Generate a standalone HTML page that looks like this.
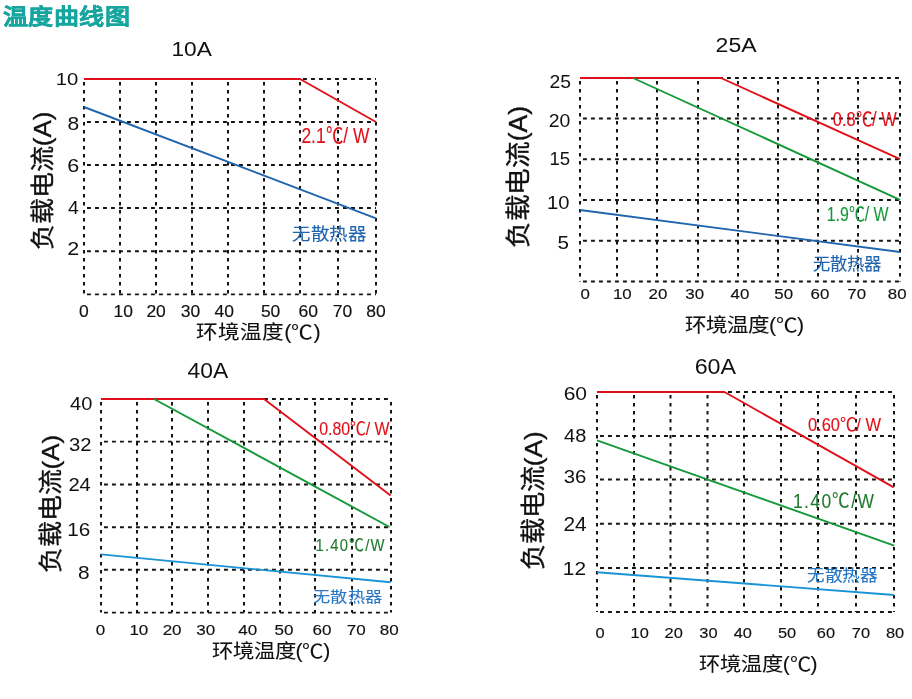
<!DOCTYPE html>
<html lang="zh-CN"><head><meta charset="utf-8"><title>温度曲线图</title>
<style>
html,body{margin:0;padding:0;background:#fff;}
body{width:912px;height:699px;overflow:hidden;}
svg{display:block;font-family:"Liberation Sans",sans-serif;will-change:transform;}
.g{stroke:#161412;stroke-width:2;stroke-dasharray:3.6 4.4;stroke-dashoffset:5;fill:none;}.h{stroke-width:1.9;stroke-dasharray:3.9 4.1;}
</style></head><body>
<svg width="912" height="699" viewBox="0 0 912 699">
<line x1="84" y1="79" x2="84" y2="294.4" class="g"/>
<line x1="120" y1="79" x2="120" y2="294.4" class="g"/>
<line x1="156" y1="79" x2="156" y2="294.4" class="g"/>
<line x1="192" y1="79" x2="192" y2="294.4" class="g"/>
<line x1="228" y1="79" x2="228" y2="294.4" class="g"/>
<line x1="264" y1="79" x2="264" y2="294.4" class="g"/>
<line x1="300" y1="79" x2="300" y2="294.4" class="g"/>
<line x1="338" y1="79" x2="338" y2="294.4" class="g"/>
<line x1="376" y1="79" x2="376" y2="294.4" class="g"/>
<line x1="84" y1="79" x2="376" y2="79" class="g h"/>
<line x1="84" y1="122" x2="376" y2="122" class="g h"/>
<line x1="84" y1="165" x2="376" y2="165" class="g h"/>
<line x1="84" y1="208" x2="376" y2="208" class="g h"/>
<line x1="84" y1="251.3" x2="376" y2="251.3" class="g h"/>
<line x1="84" y1="294.4" x2="376" y2="294.4" class="g h"/>
<polyline points="84,79 300,79 376,122" fill="none" stroke="#e0101a" stroke-width="1.9" stroke-linejoin="round"/>
<polyline points="84,107 376,218.3" fill="none" stroke="#2065ad" stroke-width="1.9" stroke-linejoin="round"/>
<line x1="580" y1="78" x2="580" y2="281.5" class="g"/>
<line x1="617" y1="78" x2="617" y2="281.5" class="g"/>
<line x1="657" y1="78" x2="657" y2="281.5" class="g"/>
<line x1="698" y1="78" x2="698" y2="281.5" class="g"/>
<line x1="738" y1="78" x2="738" y2="281.5" class="g"/>
<line x1="778" y1="78" x2="778" y2="281.5" class="g"/>
<line x1="818" y1="78" x2="818" y2="281.5" class="g"/>
<line x1="858" y1="78" x2="858" y2="281.5" class="g"/>
<line x1="900" y1="78" x2="900" y2="281.5" class="g"/>
<line x1="580" y1="78" x2="900" y2="78" class="g h"/>
<line x1="580" y1="118.5" x2="900" y2="118.5" class="g h"/>
<line x1="580" y1="159.3" x2="900" y2="159.3" class="g h"/>
<line x1="580" y1="200" x2="900" y2="200" class="g h"/>
<line x1="580" y1="240.8" x2="900" y2="240.8" class="g h"/>
<line x1="580" y1="281.5" x2="900" y2="281.5" class="g h"/>
<polyline points="580,78 721,78 900,159.2" fill="none" stroke="#e0101a" stroke-width="1.9" stroke-linejoin="round"/>
<polyline points="633,78 900,199.8" fill="none" stroke="#15993a" stroke-width="1.9" stroke-linejoin="round"/>
<polyline points="580,210 900,252" fill="none" stroke="#2065ad" stroke-width="1.9" stroke-linejoin="round"/>
<line x1="101" y1="399" x2="101" y2="612.6" class="g"/>
<line x1="137" y1="399" x2="137" y2="612.6" class="g"/>
<line x1="172" y1="399" x2="172" y2="612.6" class="g"/>
<line x1="208" y1="399" x2="208" y2="612.6" class="g"/>
<line x1="244" y1="399" x2="244" y2="612.6" class="g"/>
<line x1="280" y1="399" x2="280" y2="612.6" class="g"/>
<line x1="315" y1="399" x2="315" y2="612.6" class="g"/>
<line x1="352" y1="399" x2="352" y2="612.6" class="g"/>
<line x1="391" y1="399" x2="391" y2="612.6" class="g"/>
<line x1="101" y1="399" x2="391" y2="399" class="g h"/>
<line x1="101" y1="441.6" x2="391" y2="441.6" class="g h"/>
<line x1="101" y1="484.5" x2="391" y2="484.5" class="g h"/>
<line x1="101" y1="527.3" x2="391" y2="527.3" class="g h"/>
<line x1="101" y1="569.7" x2="391" y2="569.7" class="g h"/>
<line x1="101" y1="612.6" x2="391" y2="612.6" class="g h"/>
<polyline points="101,399 264,399 390.6,495.4" fill="none" stroke="#e0101a" stroke-width="1.9" stroke-linejoin="round"/>
<polyline points="154,399 389.5,527" fill="none" stroke="#15993a" stroke-width="1.9" stroke-linejoin="round"/>
<polyline points="101,554.4 390.6,582.3" fill="none" stroke="#1a93d6" stroke-width="1.9" stroke-linejoin="round"/>
<line x1="597" y1="392" x2="597" y2="612" class="g"/>
<line x1="634" y1="392" x2="634" y2="612" class="g"/>
<line x1="670.5" y1="392" x2="670.5" y2="612" class="g"/>
<line x1="707.5" y1="392" x2="707.5" y2="612" class="g"/>
<line x1="744" y1="392" x2="744" y2="612" class="g"/>
<line x1="781" y1="392" x2="781" y2="612" class="g"/>
<line x1="818" y1="392" x2="818" y2="612" class="g"/>
<line x1="856" y1="392" x2="856" y2="612" class="g"/>
<line x1="894" y1="392" x2="894" y2="612" class="g"/>
<line x1="597" y1="392" x2="894" y2="392" class="g h"/>
<line x1="597" y1="436" x2="894" y2="436" class="g h"/>
<line x1="597" y1="479.5" x2="894" y2="479.5" class="g h"/>
<line x1="597" y1="523.7" x2="894" y2="523.7" class="g h"/>
<line x1="597" y1="568" x2="894" y2="568" class="g h"/>
<line x1="597" y1="612" x2="894" y2="612" class="g h"/>
<polyline points="597,392 724.5,392 893.8,487.4" fill="none" stroke="#e0101a" stroke-width="1.9" stroke-linejoin="round"/>
<polyline points="597,440.3 894.2,545.6" fill="none" stroke="#15993a" stroke-width="1.9" stroke-linejoin="round"/>
<polyline points="597,572.3 894,595" fill="none" stroke="#1a93d6" stroke-width="1.9" stroke-linejoin="round"/>
<text transform="translate(171.38,55.69) scale(1.0820,1)" font-size="20.99" fill="#111">10A</text>
<text transform="translate(79.10,316.54) scale(1.1200,1)" font-size="15.63" fill="#111" stroke="#111" stroke-width="0.15">0</text>
<text transform="translate(113.43,316.54) scale(1.1200,1)" font-size="15.63" fill="#111" stroke="#111" stroke-width="0.15">10</text>
<text transform="translate(146.39,316.54) scale(1.1200,1)" font-size="15.63" fill="#111" stroke="#111" stroke-width="0.15">20</text>
<text transform="translate(180.68,316.54) scale(1.1200,1)" font-size="15.63" fill="#111" stroke="#111" stroke-width="0.15">30</text>
<text transform="translate(214.46,316.54) scale(1.1200,1)" font-size="15.63" fill="#111" stroke="#111" stroke-width="0.15">40</text>
<text transform="translate(260.88,316.54) scale(1.1200,1)" font-size="15.63" fill="#111" stroke="#111" stroke-width="0.15">50</text>
<text transform="translate(298.49,316.54) scale(1.1200,1)" font-size="15.63" fill="#111" stroke="#111" stroke-width="0.15">60</text>
<text transform="translate(332.69,316.54) scale(1.1200,1)" font-size="15.63" fill="#111" stroke="#111" stroke-width="0.15">70</text>
<text transform="translate(366.28,316.54) scale(1.1200,1)" font-size="15.63" fill="#111" stroke="#111" stroke-width="0.15">80</text>
<text transform="translate(55.78,85.23) scale(1.2013,1)" font-size="16.90" fill="#111">10</text>
<text transform="translate(67.46,129.52) scale(1.1684,1)" font-size="18.03" fill="#111">8</text>
<text transform="translate(67.22,171.62) scale(1.1845,1)" font-size="18.17" fill="#111">6</text>
<text transform="translate(67.91,213.58) scale(1.0820,1)" font-size="17.94" fill="#111">4</text>
<text transform="translate(67.22,254.80) scale(1.1770,1)" font-size="18.29" fill="#111">2</text>
<text transform="translate(50.87,250.07) rotate(-90) scale(1.0810,1)" font-size="24.13" fill="#111" stroke="#111" stroke-width="0.35">负载电流(A)</text>
<text transform="translate(196.04,339.25) scale(1.1095,1)" font-size="19.47" fill="#111" stroke="#111" stroke-width="0.1">环境温度(℃)</text>
<text transform="translate(301.43,143.20) scale(0.7968,1)" font-size="21.86" fill="#e0101a" stroke="#e0101a" stroke-width="0.12">2.1℃/ W</text>
<text transform="translate(292.16,240.25) scale(1.0738,1)" font-size="17.20" fill="#2065ad" stroke="#2065ad" stroke-width="0.12">无散热器</text>
<text transform="translate(715.55,52.19) scale(1.0990,1)" font-size="20.99" fill="#111">25A</text>
<text transform="translate(580.57,298.75) scale(1.1200,1)" font-size="15.07" fill="#111" stroke="#111" stroke-width="0.15">0</text>
<text transform="translate(612.99,298.75) scale(1.1200,1)" font-size="15.07" fill="#111" stroke="#111" stroke-width="0.15">10</text>
<text transform="translate(648.55,298.75) scale(1.1200,1)" font-size="15.07" fill="#111" stroke="#111" stroke-width="0.15">20</text>
<text transform="translate(685.33,298.75) scale(1.1200,1)" font-size="15.07" fill="#111" stroke="#111" stroke-width="0.15">30</text>
<text transform="translate(730.50,298.75) scale(1.1200,1)" font-size="15.07" fill="#111" stroke="#111" stroke-width="0.15">40</text>
<text transform="translate(774.33,298.75) scale(1.1200,1)" font-size="15.07" fill="#111" stroke="#111" stroke-width="0.15">50</text>
<text transform="translate(810.55,298.75) scale(1.1200,1)" font-size="15.07" fill="#111" stroke="#111" stroke-width="0.15">60</text>
<text transform="translate(847.35,298.75) scale(1.1200,1)" font-size="15.07" fill="#111" stroke="#111" stroke-width="0.15">70</text>
<text transform="translate(887.83,298.75) scale(1.1200,1)" font-size="15.07" fill="#111" stroke="#111" stroke-width="0.15">80</text>
<text transform="translate(549.43,88.12) scale(1.0970,1)" font-size="17.61" fill="#111">25</text>
<text transform="translate(548.63,127.32) scale(1.0938,1)" font-size="17.75" fill="#111">20</text>
<text transform="translate(549.51,164.72) scale(1.0325,1)" font-size="18.00" fill="#111">15</text>
<text transform="translate(547.08,208.82) scale(1.0949,1)" font-size="18.45" fill="#111">10</text>
<text transform="translate(557.47,249.32) scale(1.1745,1)" font-size="17.57" fill="#111">5</text>
<text transform="translate(527.39,248.09) rotate(-90) scale(1.0549,1)" font-size="25.11" fill="#111" stroke="#111" stroke-width="0.35">负载电流(A)</text>
<text transform="translate(685.24,331.85) scale(1.1022,1)" font-size="19.47" fill="#111" stroke="#111" stroke-width="0.1">环境温度(℃)</text>
<text transform="translate(832.84,125.80) scale(0.8407,1)" font-size="19.58" fill="#e0101a" stroke="#e0101a" stroke-width="0.12">0.8℃/ W</text>
<text transform="translate(826.63,220.80) scale(0.8074,1)" font-size="19.72" fill="#15993a" stroke="#15993a" stroke-width="0.12">1.9℃/ W</text>
<text transform="translate(812.81,270.15) scale(1.0087,1)" font-size="17.20" fill="#2065ad" stroke="#2065ad" stroke-width="0.12">无散热器</text>
<text transform="translate(187.54,378.48) scale(1.0557,1)" font-size="21.69" fill="#111">40A</text>
<text transform="translate(95.63,634.75) scale(1.1200,1)" font-size="15.21" fill="#111" stroke="#111" stroke-width="0.15">0</text>
<text transform="translate(129.40,634.75) scale(1.1200,1)" font-size="15.21" fill="#111" stroke="#111" stroke-width="0.15">10</text>
<text transform="translate(162.66,634.75) scale(1.1200,1)" font-size="15.21" fill="#111" stroke="#111" stroke-width="0.15">20</text>
<text transform="translate(196.34,634.75) scale(1.1200,1)" font-size="15.21" fill="#111" stroke="#111" stroke-width="0.15">30</text>
<text transform="translate(238.32,634.75) scale(1.1200,1)" font-size="15.21" fill="#111" stroke="#111" stroke-width="0.15">40</text>
<text transform="translate(274.54,634.75) scale(1.1200,1)" font-size="15.21" fill="#111" stroke="#111" stroke-width="0.15">50</text>
<text transform="translate(312.46,634.75) scale(1.1200,1)" font-size="15.21" fill="#111" stroke="#111" stroke-width="0.15">60</text>
<text transform="translate(346.76,634.75) scale(1.1200,1)" font-size="15.21" fill="#111" stroke="#111" stroke-width="0.15">70</text>
<text transform="translate(379.74,634.75) scale(1.1200,1)" font-size="15.21" fill="#111" stroke="#111" stroke-width="0.15">80</text>
<text transform="translate(70.10,410.11) scale(1.0809,1)" font-size="18.59" fill="#111">40</text>
<text transform="translate(69.09,450.72) scale(1.1170,1)" font-size="18.17" fill="#111">32</text>
<text transform="translate(68.39,491.00) scale(1.0874,1)" font-size="18.57" fill="#111">24</text>
<text transform="translate(67.34,535.51) scale(1.0810,1)" font-size="19.15" fill="#111">16</text>
<text transform="translate(78.07,579.12) scale(1.1476,1)" font-size="18.17" fill="#111">8</text>
<text transform="translate(58.66,573.06) rotate(-90) scale(1.0745,1)" font-size="24.24" fill="#111" stroke="#111" stroke-width="0.35">负载电流(A)</text>
<text transform="translate(211.85,657.65) scale(1.0948,1)" font-size="19.47" fill="#111" stroke="#111" stroke-width="0.1">环境温度(℃)</text>
<text transform="translate(319.26,435.01) scale(0.8545,1)" font-size="18.59" fill="#e0101a" stroke="#e0101a" stroke-width="0.12">0.80℃/ W</text>
<text transform="translate(315.61,550.53) scale(0.8570,1)" font-size="17.32" fill="#217a2e" letter-spacing="1.39" stroke="#217a2e" stroke-width="0.12">1.40℃/W</text>
<text transform="translate(313.31,601.66) scale(1.1575,1)" font-size="14.84" fill="#2a78c4" stroke="#2a78c4" stroke-width="0.12">无散热器</text>
<text transform="translate(694.64,373.78) scale(1.0468,1)" font-size="22.25" fill="#111">60A</text>
<text transform="translate(595.41,638.35) scale(1.1200,1)" font-size="14.65" fill="#111" stroke="#111" stroke-width="0.15">0</text>
<text transform="translate(630.57,638.35) scale(1.1200,1)" font-size="14.65" fill="#111" stroke="#111" stroke-width="0.15">10</text>
<text transform="translate(664.51,638.35) scale(1.1200,1)" font-size="14.65" fill="#111" stroke="#111" stroke-width="0.15">20</text>
<text transform="translate(699.29,638.35) scale(1.1200,1)" font-size="14.65" fill="#111" stroke="#111" stroke-width="0.15">30</text>
<text transform="translate(733.66,638.35) scale(1.1200,1)" font-size="14.65" fill="#111" stroke="#111" stroke-width="0.15">40</text>
<text transform="translate(777.99,638.35) scale(1.1200,1)" font-size="14.65" fill="#111" stroke="#111" stroke-width="0.15">50</text>
<text transform="translate(816.81,638.35) scale(1.1200,1)" font-size="14.65" fill="#111" stroke="#111" stroke-width="0.15">60</text>
<text transform="translate(851.81,638.35) scale(1.1200,1)" font-size="14.65" fill="#111" stroke="#111" stroke-width="0.15">70</text>
<text transform="translate(885.89,638.35) scale(1.1200,1)" font-size="14.65" fill="#111" stroke="#111" stroke-width="0.15">80</text>
<text transform="translate(563.65,399.81) scale(1.1004,1)" font-size="19.15" fill="#111">60</text>
<text transform="translate(564.10,441.91) scale(1.0677,1)" font-size="18.73" fill="#111">48</text>
<text transform="translate(563.68,482.61) scale(1.0966,1)" font-size="18.59" fill="#111">36</text>
<text transform="translate(563.46,531.00) scale(1.0823,1)" font-size="19.29" fill="#111">24</text>
<text transform="translate(562.83,574.60) scale(1.0928,1)" font-size="19.14" fill="#111">12</text>
<text transform="translate(542.34,569.57) rotate(-90) scale(1.0721,1)" font-size="24.46" fill="#111" stroke="#111" stroke-width="0.35">负载电流(A)</text>
<text transform="translate(699.45,671.05) scale(1.0874,1)" font-size="19.47" fill="#111" stroke="#111" stroke-width="0.1">环境温度(℃)</text>
<text transform="translate(807.94,431.22) scale(0.9212,1)" font-size="17.89" fill="#e0101a" stroke="#e0101a" stroke-width="0.12">0.60℃/ W</text>
<text transform="translate(792.90,507.99) scale(0.8442,1)" font-size="20.70" fill="#217a2e" letter-spacing="1.66" stroke="#217a2e" stroke-width="0.12">1.40℃/W</text>
<text transform="translate(806.99,581.25) scale(1.0933,1)" font-size="16.13" fill="#2a78c4" stroke="#2a78c4" stroke-width="0.12">无散热器</text>
<text transform="translate(2.90,23.69) scale(1.1400,1)" font-size="21.94" fill="#17a59f" font-weight="bold" stroke="#17a59f" stroke-width="0.4">温度曲线图</text>
</svg>
</body></html>
